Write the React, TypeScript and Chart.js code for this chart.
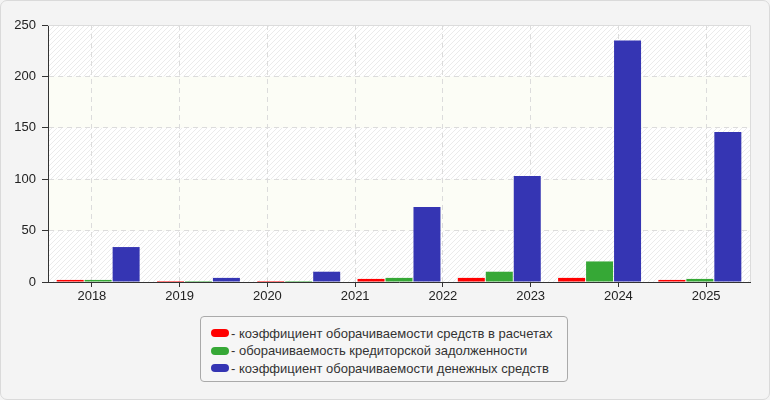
import { useEffect, useRef } from 'react'
import { Chart, registerables } from 'chart.js'

Chart.register(...registerables)

// axis labels (8 evenly spaced) and the 7 bar groups drawn under them
const years = ['2018', '2019', '2020', '2021', '2022', '2023', '2024', '2025']
const groups = ['2018', '2019', '2020', '2021', '2022', '2023', '2024']

const settlements = [2, 1, 1, 3, 4, 4, 2]
const payables = [2, 1, 1, 4, 10, 20, 3]
const cash = [34, 4, 10, 73, 103, 235, 146]

const seriesNames = [
  '- коэффициент оборачиваемости средств в расчетах',
  '- оборачиваемость кредиторской задолженности',
  '- коэффициент оборачиваемости денежных средств',
]
const seriesColors = ['#ff0000', '#36a836', '#3535b3']

const yTicks = [0, 50, 100, 150, 200, 250]

const FONT = '"Liberation Sans", Arial, sans-serif'

function makeHatch() {
  const c = document.createElement('canvas')
  c.width = 5
  c.height = 5
  const g = c.getContext('2d')!
  g.fillStyle = '#ffffff'
  g.fillRect(0, 0, 5, 5)
  g.strokeStyle = '#ebebeb'
  g.lineWidth = 1
  g.beginPath()
  g.moveTo(-1, 6); g.lineTo(6, -1)
  g.moveTo(-1, 1); g.lineTo(1, -1)
  g.moveTo(4, 6); g.lineTo(6, 4)
  g.stroke()
  return g.createPattern(c, 'repeat')
}

const bandsPlugin = {
  id: 'bands',
  beforeDraw(chart: any) {
    const { ctx, chartArea: a, scales } = chart
    const y = scales.y
    const hatch = makeHatch()
    ctx.save()
    for (let i = 0; i < yTicks.length - 1; i++) {
      const top = y.getPixelForValue(yTicks[i + 1])
      const bot = y.getPixelForValue(yTicks[i])
      ctx.fillStyle = i % 2 === 0 ? hatch : '#fcfdf6'
      ctx.fillRect(a.left, top, a.right - a.left, bot - top)
    }
    ctx.restore()
  },
  beforeDatasetsDraw(chart: any) {
    const { ctx, chartArea: a } = chart
    ctx.save()
    ctx.strokeStyle = '#dcdcdc'
    ctx.lineWidth = 1
    ctx.beginPath()
    ctx.moveTo(a.left, a.top + 0.5)
    ctx.lineTo(a.right + 0.5, a.top + 0.5)
    ctx.lineTo(a.right + 0.5, a.bottom)
    ctx.stroke()
    ctx.restore()
  },
}

export default function App() {
  const ref = useRef<HTMLCanvasElement>(null)

  useEffect(() => {
    if (!ref.current) return
    const chart = new Chart(ref.current, {
      type: 'bar',
      data: {
        labels: groups,
        datasets: [settlements, payables, cash].map((d, i) => ({
          label: seriesNames[i],
          data: d,
          backgroundColor: seriesColors[i],
          borderWidth: 0,
          categoryPercentage: 0.837,
          barPercentage: 0.965,
          xAxisID: 'x',
          yAxisID: 'y',
        })),
      },
      options: {
        responsive: false,
        animation: false,
        layout: { padding: { top: 25, right: 20, bottom: 88, left: 0 } },
        plugins: { legend: { display: false }, tooltip: { enabled: false } },
        scales: {
          x: { display: false, offset: true },
          x2: {
            type: 'category',
            labels: years,
            position: 'bottom',
            offset: true,
            grid: { offset: false, color: '#dcdcdc', tickColor: '#333', tickLength: 5 },
            border: { color: '#333', width: 1, dash: [5, 4] },
            ticks: { color: '#222', font: { family: FONT, size: 13 }, padding: 2, maxRotation: 0 },
            afterFit: (s: any) => { s.height = 30 },
          },
          y: {
            min: 0,
            max: 250,
            ticks: { stepSize: 50, color: '#222', font: { family: FONT, size: 13 }, padding: 6 },
            grid: {
              color: (c: any) => (c.tick && (c.tick.value === 0 || c.tick.value === 250) ? 'rgba(0,0,0,0)' : '#dcdcdc'),
              tickColor: '#333',
              tickLength: 6,
            },
            border: { color: '#333', width: 1, dash: [5, 4] },
            afterFit: (s: any) => { s.width = 48 },
          },
        },
      },
      plugins: [bandsPlugin],
    })
    return () => { chart.destroy() }
  }, [])

  return (
    <div style={{ position: 'fixed', left: 0, top: 0, width: 770, height: 400, background: '#f4f4f4', fontFamily: FONT }}>
      <div style={{ position: 'absolute', left: 0, top: 0, width: 768, height: 398, border: '1px solid #dadada', borderRadius: 7 }} />
      <canvas ref={ref} width={770} height={400} style={{ position: 'absolute', left: 0, top: 0 }} />
      <div style={{
        position: 'absolute', left: 200, top: 316, width: 366, height: 64,
        border: '1px solid #aaaaaa', borderRadius: 4, background: '#f6f6f6',
        boxSizing: 'content-box',
      }}>
        {seriesNames.map((name, i) => (
          <div key={i} style={{ position: 'absolute', left: 10, top: 8 + i * 17.5, height: 16, display: 'flex', alignItems: 'center', fontSize: 13, color: '#333', whiteSpace: 'nowrap' }}>
            <span style={{ display: 'inline-block', width: 18, height: 8, borderRadius: 4, background: seriesColors[i], marginRight: 2 }} />
            {name}
          </div>
        ))}
      </div>
    </div>
  )
}
